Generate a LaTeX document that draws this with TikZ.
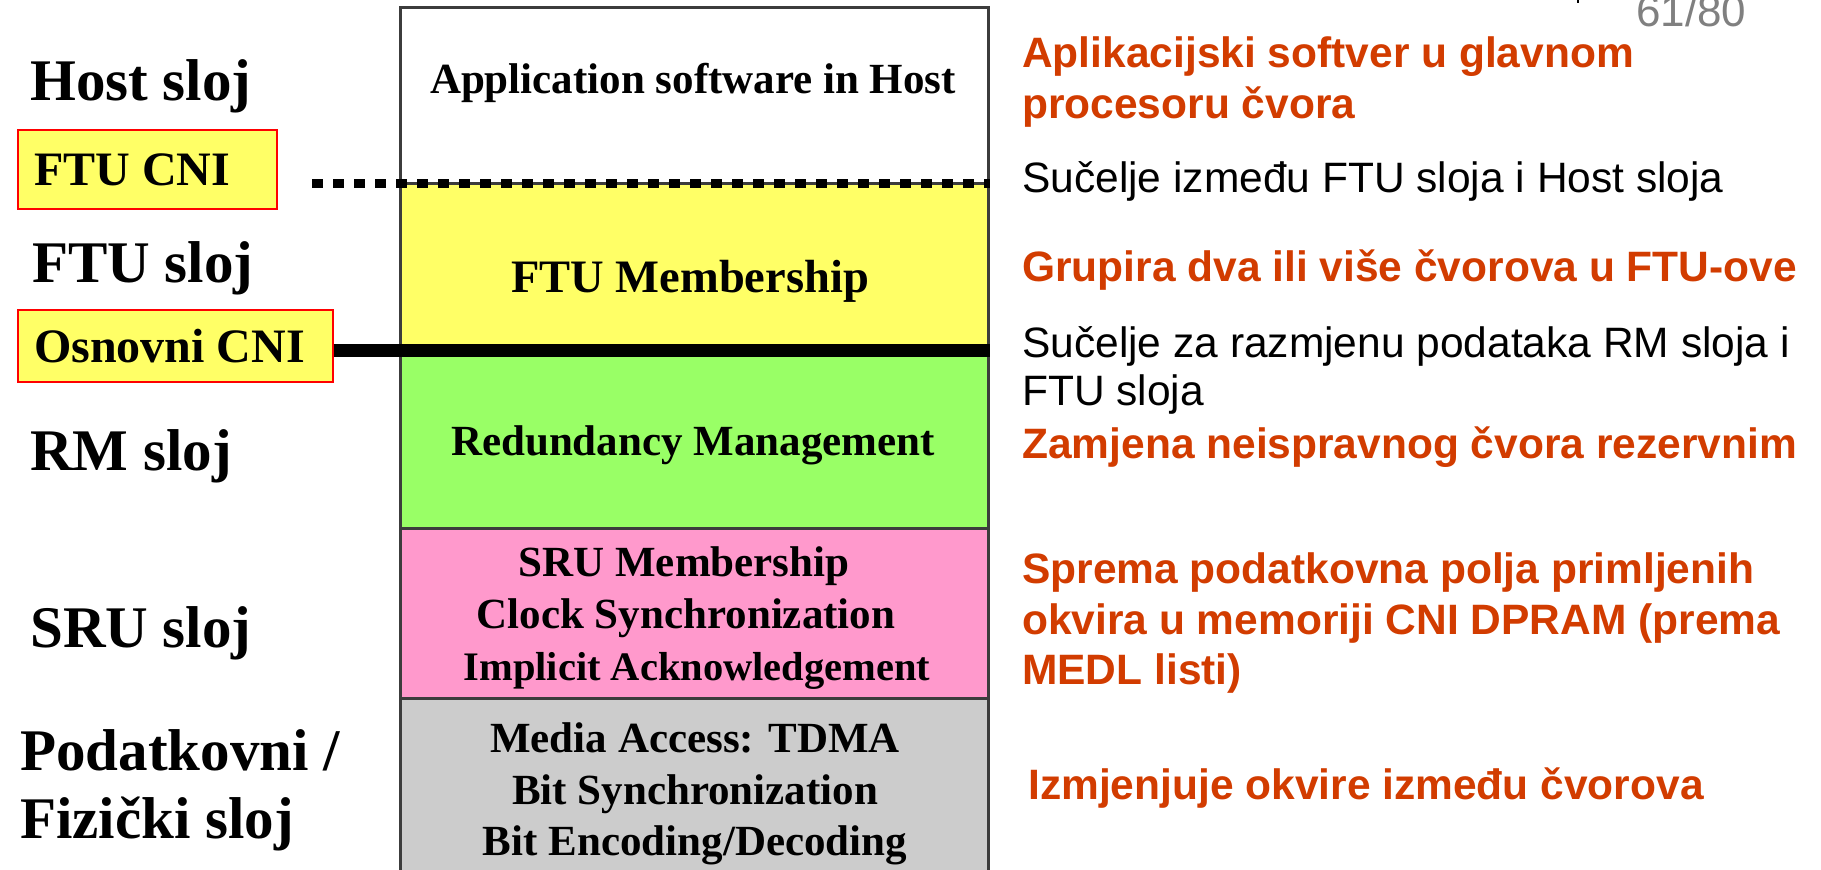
\documentclass[tikz,border=0pt]{standalone}
\usepackage{fontspec}
\setmainfont{Liberation Serif}
\newfontfamily\arialf{Liberation Sans}
\definecolor{lyel}{RGB}{255,255,102}
\definecolor{lgrn}{RGB}{153,255,102}
\definecolor{lpnk}{RGB}{255,153,204}
\definecolor{lgry}{RGB}{204,204,204}
\definecolor{orng}{RGB}{210,60,0}
\definecolor{pgray}{RGB}{128,128,128}
\definecolor{bord}{RGB}{60,60,60}
\begin{document}
\begin{tikzpicture}[x=1pt,y=-1pt,
  lyr/.style={draw=bord,line width=2.5pt,minimum width=588pt,anchor=north west,inner sep=0pt},
  coltext/.style={font=\fontsize{43}{49}\selectfont\bfseries,anchor=base,inner sep=0pt},
  slojtext/.style={font=\fontsize{59}{66}\selectfont\bfseries,anchor=base west,inner sep=0pt},
  cnibox/.style={draw=red,line width=1.5pt,fill=lyel,anchor=north west,inner sep=0pt},
  cnitext/.style={font=\fontsize{48}{56}\selectfont\bfseries,anchor=base west,inner sep=0pt},
  otext/.style={font=\arialf\bfseries\fontsize{42.5}{50}\selectfont,text=orng,anchor=base west,inner sep=0pt},
  btext/.style={font=\arialf\fontsize{42.5}{50}\selectfont,text=black,anchor=base west,inner sep=0pt}]
\useasboundingbox (0,0) rectangle (1821,870);
\fill[white] (0,0) rectangle (1821,870);
% layer column
\node[lyr,fill=white,minimum height=176pt] (app) at (399,6) {};
\node[lyr,fill=lyel,minimum height=166pt] (ftu) at (399,182) {};
\node[lyr,fill=lgrn,minimum height=179pt] (rm) at (399,348) {};
\node[lyr,fill=lpnk,minimum height=170pt] (sru) at (399,527) {};
\node[lyr,fill=lgry,minimum height=178pt] (phy) at (399,697) {};
% column texts
\node[coltext] (tapp) at (693,93) {Application software in Host};
\node[coltext,font=\fontsize{46.5}{49}\selectfont\bfseries] (tftu) at (690,292) {FTU Membership};
\node[coltext] (trm) at (693,455) {Redundancy Management};
\node[coltext] (tsru1) at (684,576) {SRU Membership};
\node[coltext] (tsru2) at (686,628) {Clock Synchronization};
\node[coltext,font=\fontsize{40.5}{49}\selectfont\bfseries] (tsru3) at (697,680) {Implicit Acknowledgement};
\node[coltext] (tphy1) at (695,752) {Media Access: TDMA};
\node[coltext] (tphy2) at (695,804) {Bit Synchronization};
\node[coltext] (tphy3) at (695,855) {Bit Encoding/Decoding};
% left labels
\node[slojtext] (lhost) at (30,100) {Host sloj};
\node[cnibox,minimum width=259pt,minimum height=79pt] (ftucni) at (17,129) {};
\node[cnitext] (lftucni) at (34,185) {FTU CNI};
\node[slojtext] (lftu) at (32,282) {FTU sloj};
\node[cnibox,minimum width=315pt,minimum height=72pt] (osn) at (17,309) {};
\node[cnitext] (losn) at (34,362) {Osnovni CNI};
\node[slojtext] (lrm) at (30,470) {RM sloj};
\node[slojtext] (lsru) at (30,647) {SRU sloj};
\node[slojtext] (lpod) at (20,770) {Podatkovni /};
\node[slojtext] (lfiz) at (20,838) {Fizički sloj};
% interface lines
\coordinate (dotstart) at (312,183);
\draw[line width=9pt,dash pattern=on 11pt off 10pt] (dotstart) -- (app.south east |- dotstart);
\draw[line width=13pt] (osn.east |- ftu.south) -- (ftu.south east);
% right descriptions
\node[otext] (r1a) at (1022,67) {Aplikacijski softver u glavnom};
\node[otext] (r1b) at (1022,118) {procesoru čvora};
\node[btext] (r2) at (1022,192) {Sučelje između FTU sloja i Host sloja};
\node[otext] (r3) at (1022,281) {Grupira dva ili više čvorova u FTU-ove};
\node[btext] (r4a) at (1022,357) {Sučelje za razmjenu podataka RM sloja i};
\node[btext] (r4b) at (1022,405) {FTU sloja};
\node[otext] (r5) at (1022,458) {Zamjena neispravnog čvora rezervnim};
\node[otext] (r6a) at (1022,583) {Sprema podatkovna polja primljenih};
\node[otext] (r6b) at (1022,634) {okvira u memoriji CNI DPRAM (prema};
\node[otext] (r6c) at (1022,684) {MEDL listi)};
\node[otext] (r7) at (1028,799) {Izmjenjuje okvire između čvorova};
% page number
\node[font=\arialf\fontsize{44}{50}\selectfont,text=pgray,anchor=base west,inner sep=0pt] (pnum) at (1636,26) {61/80};
\fill[black] (1577,0) rectangle (1579,3);
\end{tikzpicture}
\end{document}
